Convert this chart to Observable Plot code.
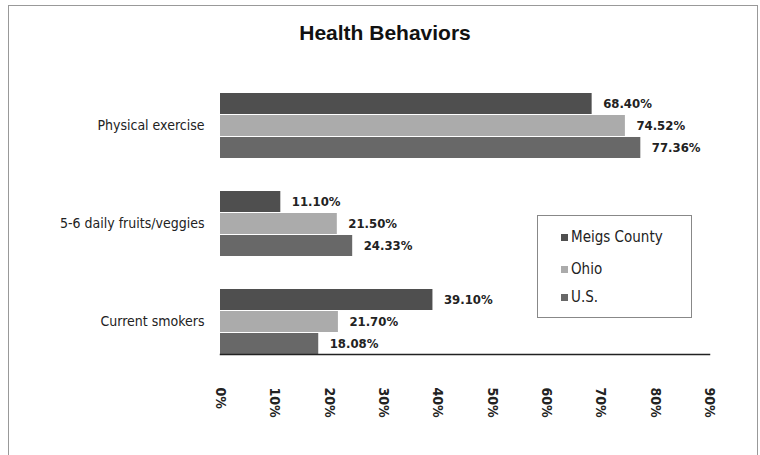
<!DOCTYPE html>
<html><head><meta charset="utf-8">
<script src="https://cdn.jsdelivr.net/npm/d3@7"></script>
<script src="https://cdn.jsdelivr.net/npm/@observablehq/plot@0.6"></script>
<style>
body{margin:0;background:#fff;}
#wrap{position:relative;width:760px;height:455px;overflow:hidden;font-family:"DejaVu Sans Condensed","DejaVu Sans",sans-serif;color:#222;}
#frame{position:absolute;left:8px;top:5px;width:750px;height:460px;border:1px solid #999;box-sizing:border-box;}
#title{position:relative;height:50px;padding-top:22px;padding-left:10px;box-sizing:border-box;text-align:center;font:bold 21px "Liberation Sans",Arial,sans-serif;line-height:21px;color:#111;}
#chart{position:relative;}
#legend{position:absolute;left:537px;top:215px;width:155px;height:103px;border:1px solid #888;box-sizing:border-box;background:#fff;font-size:15px;}
#legend .item{position:absolute;left:23px;display:flex;align-items:center;gap:3px;line-height:16px;}
#legend .sw{width:7px;height:7px;display:inline-block;}
</style></head>
<body>
<div id="wrap">
  <div id="frame"></div>
  <div id="title">Health Behaviors</div>
  <div id="chart"></div>
  <div id="legend"></div>
</div>
<script>
const categories = ["Physical exercise", "5-6 daily fruits/veggies", "Current smokers"];
const seriesNames = ["Meigs County", "Ohio", "U.S."];
const meigs = [68.40, 11.10, 39.10];
const ohio = [74.52, 21.50, 21.70];
const us = [77.36, 24.33, 18.08];
const xTicks = [0, 10, 20, 30, 40, 50, 60, 70, 80, 90];
const colors = ["#4f4f4f", "#ababab", "#686868"];

const seriesValues = [meigs, ohio, us];
const rows = [];
categories.forEach((c, ci) => {
  seriesNames.forEach((s, si) => rows.push({category: c, series: s, value: seriesValues[si][ci]}));
});

const font = '"DejaVu Sans Condensed","DejaVu Sans",sans-serif';
const chart = Plot.plot({
  width: 760, height: 405,
  marginLeft: 220, marginRight: 51, marginTop: 25, marginBottom: 84,
  style: {fontFamily: font, fontSize: "14px", background: "transparent", color: "#222"},
  x: {domain: [0, 90], label: null},
  y: {domain: seriesNames, paddingInner: 0.05, paddingOuter: 0, axis: null},
  fy: {domain: categories, paddingInner: 0.34, paddingOuter: 0.17, label: null, tickSize: 0, tickPadding: 16},
  color: {domain: seriesNames, range: colors},
  marks: [
    Plot.barX(rows, {x: "value", y: "series", fy: "category", fill: "series"}),
    Plot.text(rows, {x: "value", y: "series", fy: "category", text: d => d.value.toFixed(2) + "%",
      textAnchor: "start", dx: 11, fontWeight: "bold", fontSize: 13, fill: "#222"}),
    Plot.axisX({ticks: xTicks, tickFormat: d => d + "%", label: null, tickRotate: 90, tickSize: 0,
      tickPadding: 18, dy: 15, fontWeight: "bold", fontSize: 14, fill: "#222"}),
    Plot.frame({facet: "super", anchor: "bottom", stroke: "#222", strokeWidth: 1.5})
  ]
});
document.getElementById("chart").appendChild(chart);

const legend = document.getElementById("legend");
const tops = [13, 45, 73];
seriesNames.forEach((s, i) => {
  const it = document.createElement("div");
  it.className = "item";
  it.style.top = tops[i] + "px";
  it.innerHTML = `<span class="sw" style="background:${colors[i]}"></span><span>${s}</span>`;
  legend.appendChild(it);
});
</script>
</body></html>
